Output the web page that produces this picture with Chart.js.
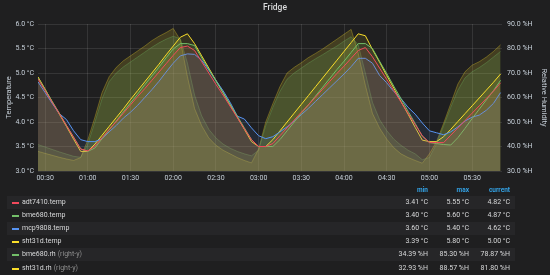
<!DOCTYPE html>
<html>
<head>
<meta charset="utf-8">
<script src="https://cdn.jsdelivr.net/npm/chart.js@4"></script>
<style>
  html, body { margin: 0; padding: 0; background: #1f1f20; width: 550px; height: 275px; overflow: hidden; font-family: Roboto, sans-serif; }
  #wrap { position: absolute; left: 0; top: 0; width: 550px; height: 185px; }
  #legend { position: absolute; left: 0; top: 0; width: 550px; height: 275px; pointer-events: none; }
  .hdr { position: absolute; top: 186px; font-size: 6.5px; font-weight: 700; color: #33a2e5; text-align: right; width: 40px; line-height: 9px; }
  .row { position: absolute; left: 7px; width: 508px; height: 13px; }
  .row.band { background: #262628; }
  .sw { position: absolute; left: 5px; top: 6px; width: 7px; height: 2px; }
  .name { position: absolute; left: 15px; top: 0; line-height: 13px; font-size: 7px; color: #d8d9da; white-space: nowrap; }
  .name span { color: #8e8e8e; margin-left: 2px; }
  .val { position: absolute; top: 0; width: 45px; text-align: right; line-height: 13px; font-size: 7px; color: #d8d9da; }
</style>
</head>
<body>
<div id="wrap"><canvas id="chart" width="550" height="185"></canvas></div>
<div id="legend"></div>
<script>
// sample times (5 min)
const times = ['00:25','00:30','00:35','00:40','00:45','00:50','00:55','01:00','01:05','01:10',
  '01:15','01:20','01:25','01:30','01:35','01:40','01:45','01:50','01:55','02:00',
  '02:05','02:10','02:15','02:20','02:25','02:30','02:35','02:40','02:45','02:50',
  '02:55','03:00','03:05','03:10','03:15','03:20','03:25','03:30','03:35','03:40',
  '03:45','03:50','03:55','04:00','04:05','04:10','04:15','04:20','04:25','04:30',
  '04:35','04:40','04:45','04:50','04:55','05:00','05:05','05:10','05:15','05:20',
  '05:25','05:30','05:35','05:40','05:45','05:50'];

const adt7410Temp = [4.88,4.64,4.40,4.17,3.93,3.69,3.45,3.41,3.51,3.68,
  3.85,4.01,4.18,4.35,4.52,4.68,4.85,5.02,5.19,5.36,
  5.52,5.55,5.46,5.23,5.00,4.77,4.55,4.32,4.09,3.86,
  3.64,3.50,3.50,3.56,3.72,3.88,4.04,4.20,4.35,4.51,
  4.67,4.83,4.99,5.14,5.30,5.46,5.52,5.33,5.10,4.87,
  4.64,4.41,4.18,3.95,3.72,3.58,3.58,3.58,3.73,3.88,
  4.03,4.18,4.33,4.48,4.63,4.80];

const bme680Temp = [4.90,4.66,4.42,4.18,3.93,3.69,3.45,3.40,3.47,3.66,
  3.84,4.02,4.21,4.39,4.57,4.76,4.94,5.12,5.31,5.49,
  5.60,5.60,5.56,5.31,5.08,4.84,4.60,4.36,4.12,3.88,
  3.64,3.50,3.50,3.50,3.64,3.82,4.00,4.18,4.35,4.53,
  4.71,4.89,5.07,5.24,5.42,5.60,5.60,5.50,5.24,4.99,
  4.73,4.48,4.22,3.97,3.71,3.58,3.56,3.54,3.53,3.68,
  3.87,4.07,4.26,4.45,4.64,4.85];

const mcp9808Temp = [4.82,4.60,4.38,4.17,4.05,3.82,3.64,3.60,3.60,3.66,
  3.80,3.93,4.08,4.20,4.34,4.50,4.66,4.83,5.02,5.20,
  5.35,5.39,5.38,5.26,5.06,4.85,4.64,4.40,4.12,4.06,
  3.88,3.72,3.66,3.70,3.80,3.90,4.02,4.15,4.28,4.42,
  4.56,4.70,4.84,4.98,5.13,5.30,5.30,5.20,4.95,4.80,
  4.62,4.48,4.30,4.16,3.98,3.82,3.78,3.74,3.80,3.90,
  4.02,4.10,4.14,4.24,4.38,4.60];

const sht31dTemp = [4.92,4.67,4.41,4.16,3.91,3.65,3.40,3.40,3.55,3.73,
  3.91,4.09,4.27,4.46,4.64,4.82,5.00,5.18,5.37,5.55,
  5.73,5.80,5.60,5.35,5.10,4.85,4.60,4.35,4.10,3.85,
  3.60,3.50,3.50,3.64,3.82,4.00,4.18,4.36,4.54,4.72,
  4.90,5.08,5.26,5.44,5.62,5.80,5.76,5.48,5.22,4.95,
  4.69,4.42,4.16,3.89,3.63,3.60,3.60,3.70,3.85,4.01,
  4.17,4.33,4.49,4.65,4.81,4.98];

const bme680Rh = [40.8,39.8,38.8,37.8,36.9,36.0,35.6,41.0,50.0,59.5,
  66.5,70.0,72.5,74.5,76.5,78.5,80.5,82.3,83.8,85.0,
  84.0,74.0,61.0,52.5,47.0,43.5,41.0,39.3,38.0,37.0,
  36.2,38.5,48.5,56.0,62.5,67.5,70.0,72.0,74.0,75.8,
  77.5,79.3,81.0,83.0,84.8,81.5,70.0,58.0,51.0,46.5,
  43.0,40.5,38.5,37.0,34.6,35.5,41.0,48.5,56.0,63.0,
  68.0,70.5,72.2,74.2,76.5,78.8];

const sht31dRh = [38.0,37.2,36.4,35.6,34.9,34.3,35.5,42.7,52.0,62.0,
  68.5,72.3,75.0,77.0,79.0,81.0,83.2,85.0,86.5,88.2,
  83.5,68.5,55.5,48.5,43.5,40.5,38.5,37.0,35.5,34.3,
  33.3,39.0,50.0,57.5,64.5,70.0,72.3,74.2,76.3,78.0,
  79.8,81.8,83.8,85.8,87.8,78.0,65.0,53.5,47.5,43.0,
  39.5,37.0,35.5,34.3,33.2,37.0,42.0,49.5,57.5,65.5,
  70.5,73.2,74.6,76.5,78.8,81.5];

const tickTimes = ['00:30','01:00','01:30','02:00','02:30','03:00','03:30','04:00','04:30','05:00','05:30'];

// legend table
const seriesNames = ['adt7410.temp','bme680.temp','mcp9808.temp','sht31d.temp','bme680.rh','sht31d.rh'];
const seriesColors = ['#F2495C','#73BF69','#5794F2','#FADE2A','#73BF69','#FADE2A'];
const statMin = ['3.41 °C','3.40 °C','3.60 °C','3.39 °C','34.39 %H','32.93 %H'];
const statMax = ['5.55 °C','5.60 °C','5.40 °C','5.80 °C','85.30 %H','88.57 %H'];
const statCurrent = ['4.82 °C','4.87 °C','4.62 °C','5.00 °C','78.87 %H','81.80 %H'];

const toMin = s => { const p = s.split(':'); return +p[0] * 60 + +p[1]; };
const fmtTime = v => String(Math.floor(v / 60)).padStart(2, '0') + ':' + String(v % 60).padStart(2, '0');
const pts = arr => arr.map((v, i) => ({ x: toMin(times[i]), y: v }));

function rgba(hex, a) {
  const n = parseInt(hex.slice(1), 16);
  return `rgba(${n >> 16},${(n >> 8) & 255},${n & 255},${a})`;
}

const textColor = '#c7d0d9';
const font = { family: 'Roboto', size: 7 };

const tempSeries = [adt7410Temp, bme680Temp, mcp9808Temp, sht31dTemp];
const rhSeries = [bme680Rh, sht31dRh];

const datasets = [];
tempSeries.forEach((arr, i) => {
  datasets.push({
    label: seriesNames[i],
    data: pts(arr),
    yAxisID: 'y',
    borderColor: seriesColors[i],
    backgroundColor: rgba(seriesColors[i], 0.1),
    borderWidth: 1,
    pointRadius: 0,
    tension: 0,
    fill: 'start'
  });
});
rhSeries.forEach((arr, j) => {
  const i = j + 4;
  datasets.push({
    label: seriesNames[i],
    data: pts(arr),
    yAxisID: 'y1',
    borderColor: rgba(seriesColors[i], 0.3),
    backgroundColor: rgba(seriesColors[i], 0.17),
    borderWidth: 1,
    pointRadius: 0,
    tension: 0,
    fill: 'start'
  });
});

new Chart(document.getElementById('chart'), {
  type: 'line',
  data: { datasets },
  options: {
    responsive: false,
    animation: false,
    layout: { padding: 0 },
    plugins: {
      legend: { display: false },
      tooltip: { enabled: false },
      title: {
        display: true,
        text: 'Fridge',
        color: '#d8d9da',
        font: { family: 'Roboto', size: 8.5, weight: '500' },
        padding: { top: 3, bottom: 10.8 }
      }
    },
    scales: {
      x: {
        type: 'linear',
        min: toMin('00:25'),
        max: toMin('05:51'),
        afterBuildTicks: s => { s.ticks = tickTimes.map(t => ({ value: toMin(t) })); },
        afterFit: s => { s.height = 14; },
        ticks: { color: textColor, font, maxRotation: 0, padding: 3, callback: v => fmtTime(v) },
        grid: { color: 'rgba(255,255,255,0.1)', drawTicks: false },
        border: { display: false }
      },
      y: {
        position: 'left',
        min: 3,
        max: 6,
        afterFit: s => { s.width = 38; },
        ticks: { stepSize: 0.5, color: textColor, font, padding: 4, callback: v => v.toFixed(1) + ' °C' },
        grid: { color: 'rgba(255,255,255,0.1)', drawTicks: false },
        border: { display: false },
        title: { display: true, text: 'Temperature', color: textColor, font: { family: 'Roboto', size: 7.5 }, padding: { top: 5, bottom: 0 } }
      },
      y1: {
        position: 'right',
        min: 30,
        max: 90,
        afterFit: s => { s.width = 48; },
        ticks: { stepSize: 10, color: textColor, font, padding: 5, callback: v => v.toFixed(1) + ' %H' },
        grid: { drawOnChartArea: false, drawTicks: false },
        border: { display: false },
        title: { display: true, text: 'Relative Humidity', color: textColor, font: { family: 'Roboto', size: 7.5 }, padding: { top: 2, bottom: 0 } }
      }
    }
  }
});

// legend table below the chart
const lg = document.getElementById('legend');
[['min', 388], ['max', 429], ['current', 470]].forEach(([t, x]) => {
  const d = document.createElement('div');
  d.className = 'hdr';
  d.style.left = x + 'px';
  d.textContent = t;
  lg.appendChild(d);
});
seriesNames.forEach((name, i) => {
  const r = document.createElement('div');
  r.className = 'row' + (i % 2 === 0 ? ' band' : '');
  r.style.top = (195.5 + i * 13.2) + 'px';
  const sw = document.createElement('div');
  sw.className = 'sw';
  sw.style.background = seriesColors[i];
  r.appendChild(sw);
  const nm = document.createElement('div');
  nm.className = 'name';
  nm.textContent = name;
  if (i >= 4) {
    const sp = document.createElement('span');
    sp.textContent = '(right-y)';
    nm.appendChild(sp);
  }
  r.appendChild(nm);
  [[statMin, 376], [statMax, 417], [statCurrent, 458]].forEach(([arr, x]) => {
    const v = document.createElement('div');
    v.className = 'val';
    v.style.left = x + 'px';
    v.textContent = arr[i];
    r.appendChild(v);
  });
  lg.appendChild(r);
});
</script>
</body>
</html>
